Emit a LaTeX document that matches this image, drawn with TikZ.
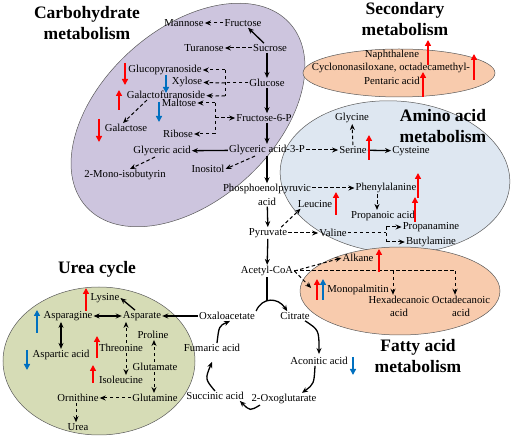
\documentclass[tikz,border=0pt]{standalone}
\usepackage{fontspec}
\setmainfont{Liberation Serif}
\usetikzlibrary{arrows.meta}
\definecolor{carbfill}{HTML}{CDC5DE}
\definecolor{lipidfill}{HTML}{F8CBAD}
\definecolor{aminofill}{HTML}{DEE7F1}
\definecolor{ureafill}{HTML}{D6DCB6}
\definecolor{markblue}{HTML}{0070C0}
\begin{document}
\begin{tikzpicture}[x=1pt,y=-1pt,>={Stealth[length=6pt,width=5pt]}]
        \tikzstyle{compound}=[inner sep=1pt,font=\fontsize{10.7}{13.5}\selectfont,align=center]
        \tikzstyle{heading}=[inner sep=0pt,font=\fontsize{17.5}{21}\selectfont\bfseries,align=center]
        \tikzstyle{flow}=[draw,->,line width=1.3pt]
        \tikzstyle{bflow}=[draw,<->,line width=1.3pt]
        \tikzstyle{fline}=[draw,line width=1.3pt]
        \tikzstyle{dflow}=[draw,->,line width=1pt,dash pattern=on 3.5pt off 2.5pt]
        \tikzstyle{dline}=[draw,line width=1pt,dash pattern=on 3.5pt off 2.5pt]
        \tikzstyle{redmark}=[draw=red,line width=1.8pt,-{Triangle[length=6pt,width=6pt]}]
        \tikzstyle{bluemark}=[draw=markblue,line width=1.8pt,-{Triangle[length=6pt,width=6pt]}]
        \tikzstyle{pool}=[draw=black!65,line width=0.5pt]
        \useasboundingbox (0,0) rectangle (512,438);
       % pools
       \draw[pool,fill=carbfill,rotate around={42:(188,115)}] (188,115) ellipse [x radius=137pt,y radius=86pt];
       \draw[pool,fill=lipidfill] (399,73) ellipse [x radius=96pt,y radius=24pt];
       \draw[pool,fill=aminofill,rotate around={-4:(395,177)}] (395,177) ellipse [x radius=115pt,y radius=76pt];
       \draw[pool,fill=lipidfill] (400,291) ellipse [x radius=100pt,y radius=44pt];
       \draw[pool,fill=ureafill] (99,361) ellipse [x radius=96pt,y radius=74pt];
       \begin{scope}
         \node [heading] (carbtitle) at (87,23.5) {Carbohydrate\\metabolism};
         \node [heading] (sectitle) at (405,19.5) {Secondary\\metabolism};
         \node [heading] (aminotitle) at (443,126) {Amino acid\\metabolism};
         \node [heading] (fattytitle) at (418,356) {Fatty acid\\metabolism};
         \node [heading] (ureatitle) at (97,269) {Urea cycle};
        \end{scope}
       % carbohydrate metabolism
       \begin{scope}
         \node [compound] (mannose) at (184,23) {Mannose};
         \node [compound] (fructose) at (243,23) {Fructose};
         \node [compound] (turanose) at (204,48) {Turanose};
         \node [compound] (sucrose) at (270,48) {Sucrose};
         \node [compound] (glucose) at (267,83) {Glucose};
         \node [compound] (glucopyr) at (165,70) {Glucopyranoside};
         \node [compound] (xylose) at (187,82) {Xylose};
         \node [compound] (galactofur) at (166,95) {Galactofuranoside};
         \node [compound] (maltose) at (179,103) {Maltose};
         \node [compound] (fru6p) at (264,118) {Fructose-6-P};
         \node [compound] (ribose) at (178,134) {Ribose};
         \node [compound] (galactose) at (126,128) {Galactose};
         \node [compound] (glyceric) at (162,151) {Glyceric acid};
         \node [compound] (gly3p) at (267,150) {Glyceric acid-3-P};
         \node [compound] (monoiso) at (125,175) {2-Mono-isobutyrin};
         \node [compound] (inositol) at (208,169) {Inositol};
         \coordinate (b1t) at (225,70);
         \coordinate (b1) at (225,83);
         \coordinate (b1b) at (225,96);
         \coordinate (b2t) at (215,103);
         \coordinate (b2m) at (215,118);
         \coordinate (b2b) at (215,134);
         \path[dflow] (fructose) -- (mannose);
         \path[flow] ([xshift=-6pt]sucrose.north) -- ([xshift=5pt]fructose.south);
         \path[dflow] (sucrose) -- (turanose);
         \path[flow] (sucrose.south -| glucose) -- (glucose.north);
         \path[dline] (glucose) -- (b1);
         \path[dline] (b1t) -- (b1b);
         \path[dflow] (b1t) -- (glucopyr);
         \path[dflow] (b1) -- (xylose);
         \path[dflow] (b1b) -- (galactofur);
         \path[dline] (b2t) -- (b2b);
         \path[dflow] (b2t) -- (maltose);
         \path[dflow] (b2m) -- (fru6p);
         \path[dflow] (b2b) -- (ribose);
         \path[flow] (glucose.south) -- ([xshift=3pt]fru6p.north);
         \path[flow] ([xshift=3pt]fru6p.south) -- (gly3p.north);
         \path[flow] (gly3p) -- (glyceric);
         \path[dflow] ([xshift=-7pt]glyceric.south) -- ([xshift=5pt]monoiso.north);
         \path[dflow] ([xshift=-12pt]gly3p.south) -- (inositol.east);
         \path[dflow] ([xshift=-19pt]galactofur.south) -- ([xshift=-3pt]galactose.north);
        \end{scope}
       % secondary metabolism
       \begin{scope}
         \node [compound] (naph) at (392,55) {Naphthalene};
         \node [compound] (cyclo) at (391,68) {Cyclononasiloxane, octadecamethyl-};
         \node [compound] (pentaric) at (392,81) {Pentaric acid};
        \end{scope}
       % amino acid metabolism
       \begin{scope}
         \node [compound] (glycine) at (352,118) {Glycine};
         \node [compound] (serine) at (353,150) {Serine};
         \node [compound] (cysteine) at (411,151) {Cysteine};
         \node [compound] (pep) at (267,195) {Phosphoenolpyruvic\\acid};
         \node [compound] (phenyl) at (386,188) {Phenylalanine};
         \node [compound] (leucine) at (315,204) {Leucine};
         \node [compound] (propanoic) at (383,216) {Propanoic acid};
         \node [compound] (pyruvate) at (268,233) {Pyruvate};
         \node [compound] (valine) at (333,233) {Valine};
         \node [compound] (propanamine) at (431,227) {Propanamine};
         \node [compound] (butylamine) at (431,242) {Butylamine};
         \coordinate (b3t) at (386,227);
         \coordinate (b3) at (386,233);
         \coordinate (b3b) at (386,242);
         \path[flow] (gly3p) -- (pep);
         \path[dflow] (gly3p) -- (serine);
         \path[dflow] (serine) -- (glycine);
         \path[flow] (serine) -- (cysteine);
         \path[dflow] ([yshift=7pt]pep.east) -- (phenyl);
         \path[dflow] ([xshift=-9pt]phenyl.south) -- ([xshift=-6pt]propanoic.north);
         \path[flow] (pep) -- (pyruvate);
         \path[dflow] ([xshift=-7pt]pyruvate.north east) -- ([xshift=4pt]leucine.south west);
         \path[dflow] (pyruvate) -- (valine);
         \path[dline] (valine) -- (b3);
         \path[dline] (b3t) -- (b3b);
         \path[dflow] (b3t) -- (propanamine);
         \path[dflow] (b3b) -- (butylamine);
        \end{scope}
       % fatty acid metabolism
       \begin{scope}
         \node [compound] (acetyl) at (267,271) {Acetyl-CoA};
         \node [compound] (alkane) at (358,258) {Alkane};
         \node [compound] (monopal) at (358,290) {Monopalmitin};
         \node [compound] (hexa) at (399,306.5) {Hexadecanoic\\acid};
         \node [compound] (octa) at (461,306.5) {Octadecanoic\\acid};
         \coordinate (fa1) at (393,271);
         \coordinate (fa2) at (455,271);
         \path[flow] (pyruvate) -- (acetyl);
         \path[dflow] (acetyl.east) -- (alkane.west);
         \path[dflow] (acetyl.east) -- ([xshift=-15pt,yshift=2pt]monopal.west);
         \path[dline] (acetyl.east) -- (fa2);
         \path[dflow] (fa1) -- ([xshift=-6pt]hexa.north);
         \path[dflow] (fa2) -- ([xshift=-6pt]octa.north);
        \end{scope}
       % TCA cycle
       \begin{scope}
         \node [compound] (oxalo) at (227,316) {Oxaloacetate};
         \node [compound] (citrate) at (295,316) {Citrate};
         \node [compound] (aconitic) at (319,361) {Aconitic acid};
         \node [compound] (oxoglu) at (284,399) {2-Oxoglutarate};
         \node [compound] (succinic) at (215,396) {Succinic acid};
         \node [compound] (fumaric) at (212,348) {Fumaric acid};
         \coordinate (tcatop) at (267,301);
         \path[fline] (acetyl) -- (tcatop);
         \draw[flow] (oxalo.north east) .. controls (262,297) and (278,297) .. ([xshift=8pt]citrate.north west);
         \draw[flow] ([xshift=10pt]citrate.south) .. controls (319,330) .. ([yshift=2pt]aconitic.north);
         \draw[flow] ([xshift=-4pt]aconitic.south) .. controls (314,384) .. ([xshift=18pt]oxoglu.north);
         \draw[flow] ([xshift=-24pt]oxoglu.south) .. controls (250,411) .. ([xshift=-5pt]succinic.south east);
         \draw[flow] (succinic.north) .. controls (205,379) .. ([yshift=-9pt]fumaric.south);
         \draw[flow] ([xshift=5pt]fumaric.north) .. controls (219,326) .. ([xshift=3pt]oxalo.south);
        \end{scope}
       % urea cycle
       \begin{scope}
         \node [compound] (lysine) at (105,298) {Lysine};
         \node [compound] (asparagine) at (68,316) {Asparagine};
         \node [compound] (asparate) at (142,316) {Asparate};
         \node [compound] (aspartic) at (61,355) {Aspartic acid};
         \node [compound] (proline) at (153,335) {Proline};
         \node [compound] (threonine) at (121,348) {Threonine};
         \node [compound] (glutamate) at (155,367) {Glutamate};
         \node [compound] (isoleucine) at (121,380) {Isoleucine};
         \node [compound] (glutamine) at (155,398) {Glutamine};
         \node [compound] (ornithine) at (78,398) {Ornithine};
         \node [compound] (urea) at (78,427) {Urea};
         \path[flow] (oxalo) -- (asparate);
         \path[bflow] (asparagine) -- (asparate);
         \path[flow] ([xshift=-7pt]asparate.north) -- (lysine.east);
         \path[bflow] ([xshift=-7pt]asparagine.south) -- (aspartic.north);
         \path[dflow] ([xshift=5pt]threonine.north) -- ([xshift=-16pt]asparate.south);
         \path[dflow] ([xshift=5pt]threonine.south) -- ([xshift=5pt]isoleucine.north);
         \path[dflow] ([xshift=-1pt]glutamate.north) -- ([xshift=1pt]proline.south);
         \path[dflow] ([xshift=-1pt]glutamate.south) -- ([xshift=-1pt]glutamine.north);
         \path[dflow] (glutamine) -- (ornithine);
         \path[dflow] ([xshift=-2pt]ornithine.south) -- ([xshift=-2pt]urea.north);
        \end{scope}
       % up and down marks
       \draw[redmark] (125,63) -- (125,85);
       \draw[bluemark] (166,75) -- (166,93);
       \draw[redmark] (119,110) -- (119,90);
       \draw[bluemark] (159,102) -- (159,122);
       \draw[redmark] (99,119) -- (99,142);
       \draw[redmark] (428,65) -- (428,40);
       \draw[redmark] (474,80) -- (474,54);
       \draw[redmark] (423,97) -- (423,72);
       \draw[redmark] (369,160) -- (369,135);
       \draw[redmark] (336,215) -- (336,192);
       \draw[redmark] (418,198) -- (418,173);
       \draw[redmark] (415,222) -- (415,197);
       \draw[redmark] (379,272) -- (379,249);
       \draw[redmark] (317,300) -- (317,279);
       \draw[bluemark] (323,300) -- (323,279);
       \draw[bluemark] (353,357) -- (353,375);
       \draw[redmark] (86,311) -- (86,288);
       \draw[bluemark] (37,333) -- (37,310);
       \draw[bluemark] (27,350) -- (27,370);
       \draw[redmark] (97,358) -- (97,336);
       \draw[redmark] (93,383) -- (93,365);
      \end{tikzpicture}
\end{document}
